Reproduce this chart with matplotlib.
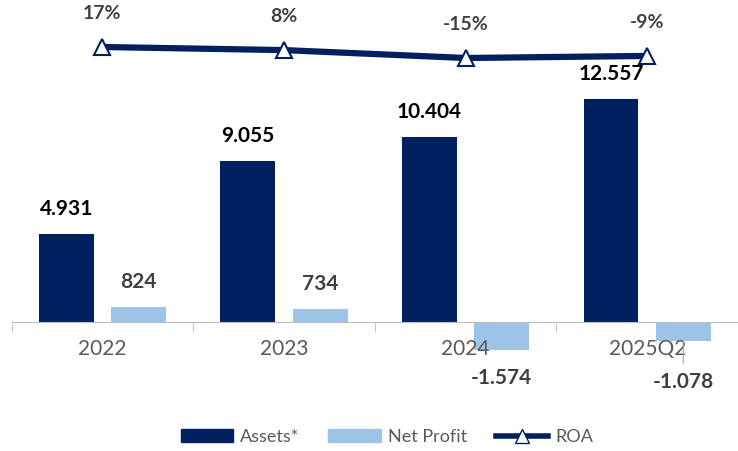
import numpy as np
import matplotlib
matplotlib.use("Agg")
import matplotlib.pyplot as plt
from matplotlib.lines import Line2D
from matplotlib.patches import Patch

categories = ["2022", "2023", "2024", "2025Q2"]
assets = [4931, 9055, 10404, 12557]
net_profit = [824, 734, -1574, -1078]
roa = [17, 8, -15, -9]

navy = "#002060"
light = "#9DC3E6"
txt = "#404040"

plt.rcParams['font.family'] = ['Lato', 'DejaVu Sans']


def fmt(v):
    return "{:,}".format(v).replace(",", ".")


fig = plt.figure(figsize=(7.38, 4.51), dpi=100)
ax = fig.add_axes([11.5 / 738, 51 / 451, 726.5 / 738, 380 / 451])
x = np.arange(len(categories))
w = 0.302
off = 0.199

ax.bar(x - off, assets, w, color=navy)
ax.bar(x + off, net_profit, w, color=light)

ax.set_xlim(-0.5, 3.457)
ax.set_ylim(-4390, 17010)

for xi, v in zip(x, assets):
    ax.annotate(fmt(v), (xi - off, v), xytext=(0, 18), textcoords="offset points",
                ha="center", va="center", fontsize=15, fontweight="bold", color="black")
neg_anchor = min(net_profit)
for xi, v in zip(x, net_profit):
    if v >= 0:
        ax.annotate(fmt(v), (xi + off, v), xytext=(0, 18), textcoords="offset points",
                    ha="center", va="center", fontsize=15, fontweight="bold", color=txt)
    else:
        dy = -20 if v == neg_anchor else -23
        ax.annotate(fmt(v), (xi + off, neg_anchor), xytext=(0, dy), textcoords="offset points",
                    ha="center", va="center", fontsize=15, fontweight="bold", color=txt)
        if v != neg_anchor:
            # leader line
            ax.annotate("", xy=(xi + off, v), xytext=(0, -16), textcoords="offset points",
                        arrowprops=dict(arrowstyle="-", color="#A6A6A6", lw=0.8,
                                        shrinkA=0, shrinkB=0))

for s in ["top", "right", "left"]:
    ax.spines[s].set_visible(False)
ax.spines["bottom"].set_position(("data", 0))
ax.spines["bottom"].set_color("#BFBFBF")
ax.set_yticks([])
ax.set_xticks(x)
ax.set_xticklabels(categories, fontsize=15, color="#595959")
ax.tick_params(axis="x", which="major", length=0, pad=12)
ax.set_xticks(np.arange(-0.5, len(categories), 1), minor=True)
ax.tick_params(axis="x", which="minor", length=7, color="#BFBFBF")

ax2 = ax.twinx()
ax2.set_ylim(-1009.5, 95.5)
ax2.plot(x, roa, color=navy, linewidth=4.5, marker="^", markersize=11,
         markerfacecolor="white", markeredgecolor=navy, markeredgewidth=1.5)
for xi, v in zip(x, roa):
    ax2.annotate("{}%".format(v), (xi, v), xytext=(0, 24), textcoords="offset points",
                 ha="center", va="center", fontsize=14, fontweight="bold", color=txt)
ax2.axis("off")

handles = [
    Patch(color=navy, label="Assets*"),
    Patch(color=light, label="Net Profit"),
    Line2D([], [], color=navy, linewidth=4, marker="^", markersize=10,
           markerfacecolor="white", markeredgecolor=navy, label="ROA"),
]
leg = fig.legend(handles=handles, loc="center", bbox_to_anchor=(387 / 738, 1 - 437 / 451),
                 ncol=3, frameon=False, fontsize=13, handlelength=2.9,
                 handletextpad=0.4, columnspacing=1.6)
for t in leg.get_texts():
    t.set_color("#595959")

fig.savefig("out.png", dpi=100)
